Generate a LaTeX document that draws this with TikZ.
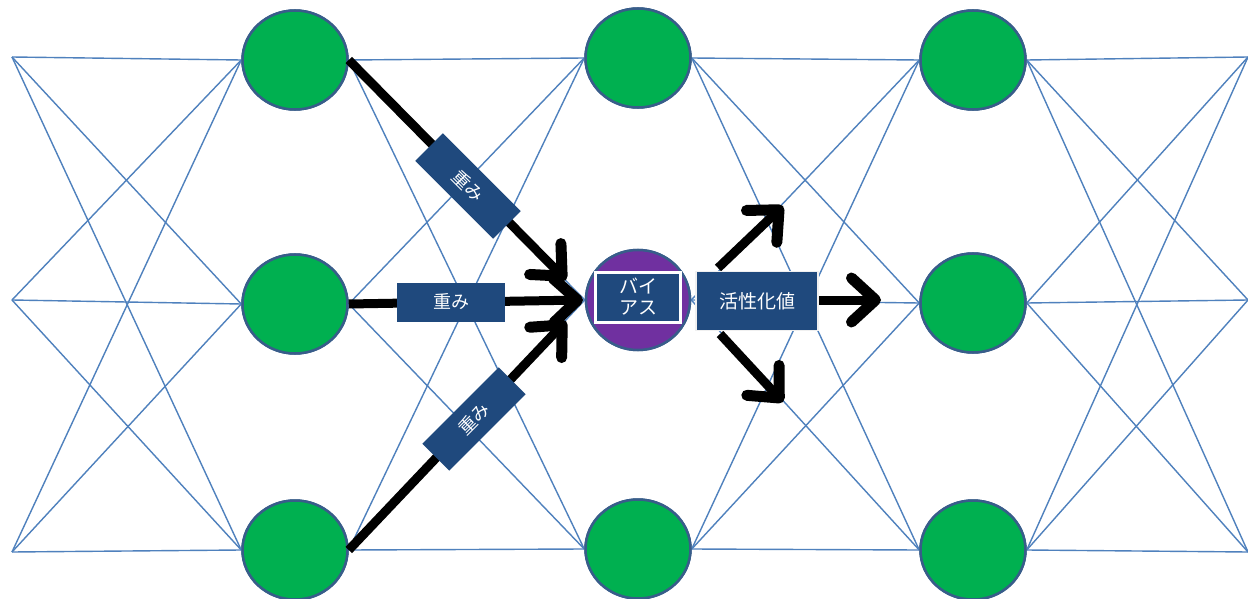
\documentclass[tikz,border=0pt]{standalone}
\usepackage{fontspec}
\newfontfamily\jp{Noto Sans CJK JP}
\usetikzlibrary{arrows.meta,shapes.geometric}
\definecolor{lineblue}{RGB}{79,129,189}
\definecolor{rimblue}{RGB}{56,93,138}
\definecolor{nodegreen}{RGB}{0,176,80}
\definecolor{biaspurple}{RGB}{112,48,160}
\definecolor{boxblue}{RGB}{31,73,125}
\begin{document}
\begin{tikzpicture}[x=1pt,y=-1pt,
  net/.style={draw=lineblue,line width=1.4pt},
  neuron/.style={ellipse,draw=rimblue,line width=2.5pt,fill=nodegreen,minimum width=105pt,minimum height=99pt,inner sep=0pt},
  biasnode/.style={neuron,fill=biaspurple,minimum width=104pt,minimum height=100pt},
  lab/.style={fill=boxblue,text=white,font=\jp\fontsize{18}{24}\selectfont,inner sep=0pt,align=center},
  bigarrow/.style={line width=9pt,-{Straight Barb[length=24pt,width=44pt,line width=11pt,round]}}
]
\useasboundingbox (0,0) rectangle (1248,599);
\fill[white] (0,0) rectangle (1248,599);

% free end points
\coordinate (L1) at (12,57);
\coordinate (L2) at (12,300);
\coordinate (L3) at (12,552);
\coordinate (R1) at (1248,57);
\coordinate (R2) at (1248,300);
\coordinate (R3) at (1248,552);

% neurons (positions)
\path
  (295,60)  node[neuron] (a1) {}
  (295,304) node[neuron] (a2) {}
  (295,550) node[neuron] (a3) {}
  (638,58)  node[neuron] (b1) {}
  (638,300) node[biasnode] (b2) {}
  (638,549) node[neuron] (b3) {}
  (973,60)  node[neuron] (c1) {}
  (973,303) node[neuron] (c2) {}
  (973,550) node[neuron] (c3) {};

% network lines
\foreach \l in {L1,L2,L3}
  \foreach \n in {a1,a2,a3}
    \draw[net] (\l) -- (\n.west);
\foreach \n in {a1,a2,a3}
  \foreach \m in {b1,b2,b3}
    \draw[net] (\n.east) -- (\m.west);
\foreach \m in {b1,b2,b3}
  \foreach \k in {c1,c2,c3}
    \draw[net] (\m.east) -- (\k.west);
\foreach \k in {c1,c2,c3}
  \foreach \r in {R1,R2,R3}
    \draw[net] (\k.east) -- (\r);

% redraw neurons on top of lines
\path
  (295,60)  node[neuron] {}
  (295,304) node[neuron] {}
  (295,550) node[neuron] {}
  (638,58)  node[neuron] {}
  (638,300) node[biasnode] {}
  (638,549) node[neuron] {}
  (973,60)  node[neuron] {}
  (973,303) node[neuron] {}
  (973,550) node[neuron] {};

% arrow tips
\coordinate (tA) at (566,280);
\coordinate (tB) at (583,300);
\coordinate (tC) at (566,321);
\coordinate (sU) at (718,268);
\coordinate (tU) at (783,206);
\coordinate (sD) at (720,334);
\coordinate (tD) at (783,402);
\coordinate (sH) at (815,300);
\coordinate (tH) at (881,300);

\draw[bigarrow] (a1.east) -- (tA);
\draw[bigarrow] (a2.east) -- (tB);
\draw[bigarrow] (a3.east) -- (tC);
\draw[bigarrow] (sU) -- (tU);
\draw[bigarrow] (sD) -- (tD);
\draw[bigarrow] (sH) -- (tH);

% labels
\node[lab,minimum width=110pt,minimum height=39pt,rotate=-45] (wA) at (468,186) {重み};
\node[lab,minimum width=108pt,minimum height=39pt] (wB) at (451,302) {重み};
\node[lab,minimum width=108pt,minimum height=38pt,rotate=45] (wC) at (474,419) {重み};
\node[lab,draw=white,line width=3pt,minimum width=85pt,minimum height=50pt,font=\jp\fontsize{19}{24}\selectfont] (bias) at (638,297) {バイ\\[-3pt]アス};
\node[lab,draw=white!88!gray,line width=1.5pt,minimum width=122pt,minimum height=59pt,font=\jp\fontsize{19}{24}\selectfont] (act) at (757,301) {活性化値};
\end{tikzpicture}
\end{document}
